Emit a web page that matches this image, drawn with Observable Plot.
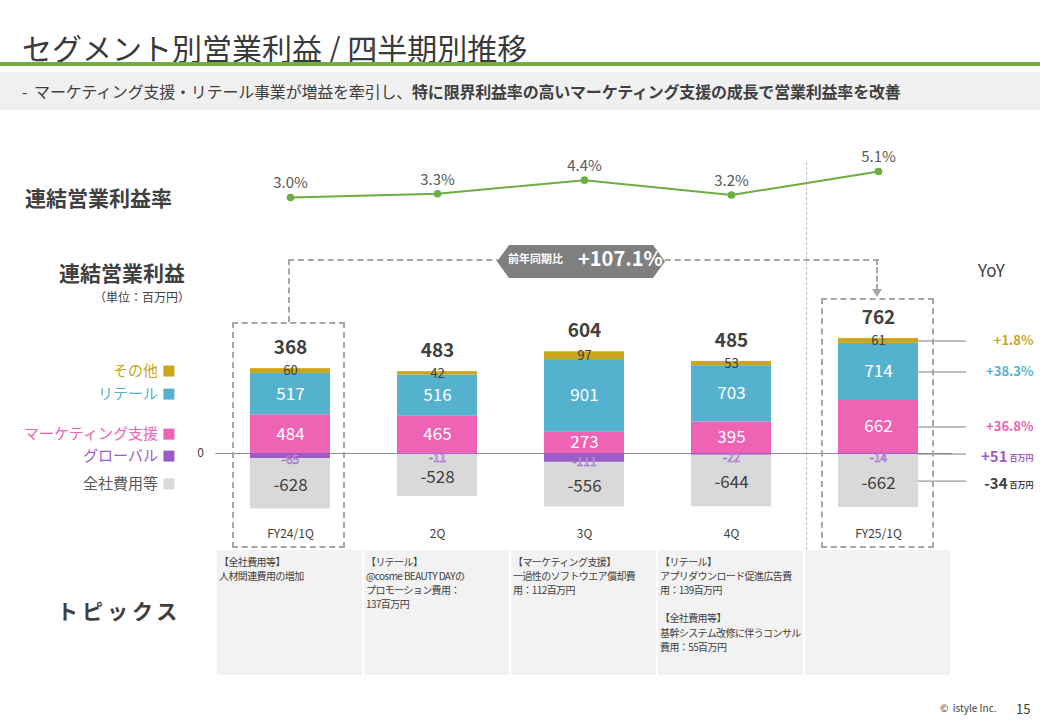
<!DOCTYPE html>
<html><head><meta charset="utf-8">
<script src="https://cdn.jsdelivr.net/npm/d3@7"></script>
<script src="https://cdn.jsdelivr.net/npm/@observablehq/plot@0.6"></script>
<style>
body{margin:0;background:#fff;font-family:"Noto Sans CJK JP","Noto Sans",sans-serif;color:#404040;}
#page{position:relative;width:1040px;height:720px;overflow:hidden;background:#fff;}
.abs{position:absolute;white-space:nowrap;line-height:1;}
.dash{position:absolute;border-color:#A6A6A6;border-style:dashed;border-width:0;}
</style></head>
<body>
<div id="page">
  <div class="abs" style="left:22px;top:32px;font-size:30px;color:#3a3a3a;">セグメント別営業利益 / 四半期別推移</div>
  <div class="abs" style="left:0;top:62px;width:1040px;height:4px;background:#70AD47;"></div>
  <div class="abs" style="left:0;top:72px;width:1040px;height:38px;background:#F0F0F0;"></div>
  <div class="abs" style="left:22px;top:83px;font-size:16px;color:#404040;letter-spacing:-0.2px;">-&nbsp; マーケティング支援・リテール事業が増益を牽引し、<b>特に限界利益率の高いマーケティング支援の成長で営業利益率を改善</b></div>

  <div class="abs" style="left:25px;top:187px;font-size:21px;font-weight:bold;">連結営業利益率</div>
  <div class="abs" style="left:59px;top:262px;font-size:21px;font-weight:bold;">連結営業利益</div>
  <div class="abs" style="left:94px;top:291px;font-size:12px;">（単位：百万円）</div>
  <div class="abs" style="left:57px;top:600px;font-size:21px;font-weight:bold;letter-spacing:4px;">トピックス</div>
  <div class="abs" style="left:978px;top:261px;font-size:17px;">YoY</div>

  <div class="abs" style="left:806px;top:162px;height:513px;width:0;border-left:1px dashed #BFBFBF;"></div>

  <div id="rate" class="abs" style="left:0;top:140px;"></div>
  <div id="bars" class="abs" style="left:0;top:300px;"></div>
  <div id="topics" class="abs" style="left:0;top:550px;"></div>

  <div class="dash" style="left:232px;top:322px;width:109px;height:222px;border-width:2px;"></div>
  <div class="dash" style="left:821px;top:298px;width:109px;height:246px;border-width:2px;"></div>
  <div class="dash" style="left:288px;top:259px;width:589px;height:61px;border-top-width:2px;border-left-width:2px;"></div>
  <div class="dash" style="left:876px;top:259px;width:0;height:31px;border-left-width:2px;"></div>
  <div class="abs" style="left:872px;top:289px;width:0;height:0;border-left:5px solid transparent;border-right:5px solid transparent;border-top:8px solid #A6A6A6;"></div>
  <div class="abs" style="left:497px;top:245px;width:168px;height:33px;background:#7F7F7F;clip-path:polygon(0 50%,12px 0,156px 0,100% 50%,156px 100%,12px 100%);"></div>
  <div class="abs" style="left:508px;top:253px;font-size:11px;font-weight:bold;color:#fff;">前年同期比</div>
  <div class="abs" style="left:578px;top:248px;font-size:20px;font-weight:bold;color:#fff;">+107.1%</div>

  <div class="abs" style="left:940px;top:703px;font-size:10px;">©&nbsp; istyle Inc.</div>
  <div class="abs" style="left:1016px;top:702px;font-size:13px;">15</div>
</div>
<script>
const quarters = ["FY24/1Q", "2Q", "3Q", "4Q", "FY25/1Q"];
const other = [60, 42, 97, 53, 61];
const retail = [517, 516, 901, 703, 714];
const marketing = [484, 465, 273, 395, 662];
const globalSeg = [-65, -11, -111, -22, -14];
const corporate = [-628, -528, -556, -644, -662];
const totals = [368, 483, 604, 485, 762];
const opMargin = [3.0, 3.3, 4.4, 3.2, 5.1];
const segNames = ["マーケティング支援", "リテール", "その他", "グローバル", "全社費用等"];
const segColors = ["#EF62B4", "#55B2CF", "#CBA61A", "#9A5DC8", "#D9D9D9"];
const yoyText = ["+36.8%", "+38.3%", "+1.8%", "+51", "-34"];
const yoyUnit = ["", "", "", "百万円", "百万円"];
const yoyColors = ["#EF62B4", "#55B2CF", "#CBA61A", "#9A5DC8", "#404040"];
const topics = [
  "【全社費用等】\n人材関連費用の増加",
  "【リテール】\n@cosme BEAUTY DAYの\nプロモーション費用：\n137百万円",
  "【マーケティング支援】\n一過性のソフトウエア償却費\n用：112百万円",
  "【リテール】\nアプリダウンロード促進広告費\n用：139百万円\n\n【全社費用等】\n基幹システム改修に伴うコンサル\n費用：55百万円",
  ""
];

const font = '"Noto Sans CJK JP","Noto Sans",sans-serif';
const series = [marketing, retail, other, globalSeg, corporate];
const rows = [];
quarters.forEach((q, i) => {
  let pos = 0, neg = 0;
  series.forEach((arr, k) => {
    const v = arr[i];
    let y1, y2;
    if (v >= 0) { y1 = pos; y2 = pos + v; pos = y2; } else { y1 = neg; y2 = neg + v; neg = y2; }
    rows.push({q, k, seg: segNames[k], value: v, y1, y2, mid: (y1 + y2) / 2});
  });
});
const tops = quarters.map((q, i) => ({q, total: totals[i], top: marketing[i] + retail[i] + other[i]}));
const legendRows = rows.filter(d => d.q === quarters[0]);
const yoyRows = rows.filter(d => d.q === quarters[4]).map(d => ({...d, t: yoyText[d.k], u: yoyUnit[d.k], c: yoyColors[d.k]}));

const xBars = {domain: quarters, paddingInner: 0.4567, paddingOuter: 0.2283};
const W = 1040, ML = 215.4, MR = 88.4;

// operating margin line
const rateData = quarters.map((q, i) => ({q, rate: opMargin[i]}));
document.getElementById("rate").append(Plot.plot({
  width: W, height: 90, marginLeft: ML, marginRight: MR, marginTop: 0, marginBottom: 0,
  style: {fontFamily: font, background: "transparent", overflow: "visible"},
  x: {...xBars, axis: null},
  y: {domain: [0.334, 7.604], axis: null},
  marks: [
    Plot.line(rateData, {x: "q", y: "rate", stroke: "#6BAE43", strokeWidth: 2}),
    Plot.dot(rateData, {x: "q", y: "rate", r: 3.8, fill: "#6BAE43"}),
    Plot.text(rateData, {x: "q", y: "rate", text: d => d.rate.toFixed(1) + "%", dy: -14, fontSize: 15, fill: "#595959"})
  ]
}));

// stacked bars
document.getElementById("bars").append(Plot.plot({
  width: W, height: 260, marginLeft: ML, marginRight: MR, marginTop: 0, marginBottom: 40,
  style: {fontFamily: font, fontSize: "12px", color: "#404040", background: "transparent", overflow: "visible"},
  x: {...xBars, tickSize: 0, tickPadding: 9, label: null},
  y: {domain: [-837.5, 1912.5], ticks: [0], tickSize: 0, tickPadding: 12, label: null},
  color: {domain: segNames, range: segColors},
  marks: [
    Plot.ruleY([0], {stroke: "#8C8C8C", strokeWidth: 1}),
    Plot.barY(rows, {x: "q", y1: "y1", y2: "y2", fill: "seg"}),
    Plot.text(rows.filter(d => d.k === 0 || d.k === 1), {x: "q", y: "mid", text: d => String(d.value), fill: "white", fontSize: 17}),
    Plot.text(rows.filter(d => d.k === 2), {x: "q", y: "mid", text: d => String(d.value), fill: "#404040", fontSize: 13}),
    Plot.text(rows.filter(d => d.k === 4), {x: "q", y: "mid", text: d => String(d.value), dy: 2, fill: "#404040", fontSize: 17}),
    Plot.text(rows.filter(d => d.k === 3), {x: "q", y: "mid", text: d => String(d.value), dy: 4, fill: "#F3ECFA", stroke: "#9A5DC8", strokeWidth: 0.6, paintOrder: "normal", fontSize: 12}),
    Plot.text(tops, {x: "q", y: "top", text: d => String(d.total), dy: -21, fontSize: 19, fontWeight: "bold", fill: "#404040"}),
    // legend
    Plot.text(legendRows, {y: "mid", frameAnchor: "left", dx: -58, textAnchor: "end", text: "seg", fontSize: 15, letterSpacing: "-0.5px", fontWeight: d => d.k === 4 ? "normal" : "bold", fill: d => d.k === 4 ? "#595959" : segColors[d.k]}),
    Plot.dot(legendRows, {y: "mid", frameAnchor: "left", dx: -47, symbol: "square", r: 6.2, fill: "seg"}),
    // YoY
    Plot.tickY(yoyRows, {x: "q", y: "mid", dx: 80, insetRight: 32, stroke: "#808080", strokeWidth: 1}),
    Plot.text(yoyRows.filter(d => d.u === ""), {x: "q", y: "mid", text: "t", dx: 155, textAnchor: "end", fontSize: 13, fontWeight: "bold", fill: d => d.c}),
    Plot.text(yoyRows.filter(d => d.u !== ""), {x: "q", y: "mid", text: "t", dx: 129, dy: 3, textAnchor: "end", fontSize: 15, fontWeight: "bold", fill: d => d.c}),
    Plot.text(yoyRows.filter(d => d.u !== ""), {x: "q", y: "mid", text: "u", dx: 155, dy: 4, textAnchor: "end", fontSize: 8, fontWeight: "bold", fill: d => d.c})
  ]
}));

// topics
const topicRows = quarters.map((q, i) => ({q, text: topics[i]}));
document.getElementById("topics").append(Plot.plot({
  width: W, height: 125, marginLeft: ML, marginRight: MR, marginTop: 0, marginBottom: 0,
  style: {fontFamily: font, background: "transparent", letterSpacing: "-0.6px"},
  x: {domain: quarters, paddingInner: 0.014, paddingOuter: 0.007, axis: null},
  marks: [
    Plot.cell(topicRows, {x: "q", fill: "#F2F2F2"}),
    Plot.text(topicRows, {x: "q", text: "text", frameAnchor: "top", textAnchor: "start", lineAnchor: "top", dx: -71, dy: 5, fontSize: 10, lineHeight: 1.42, fill: "#404040"})
  ]
}));
</script>
</body></html>
